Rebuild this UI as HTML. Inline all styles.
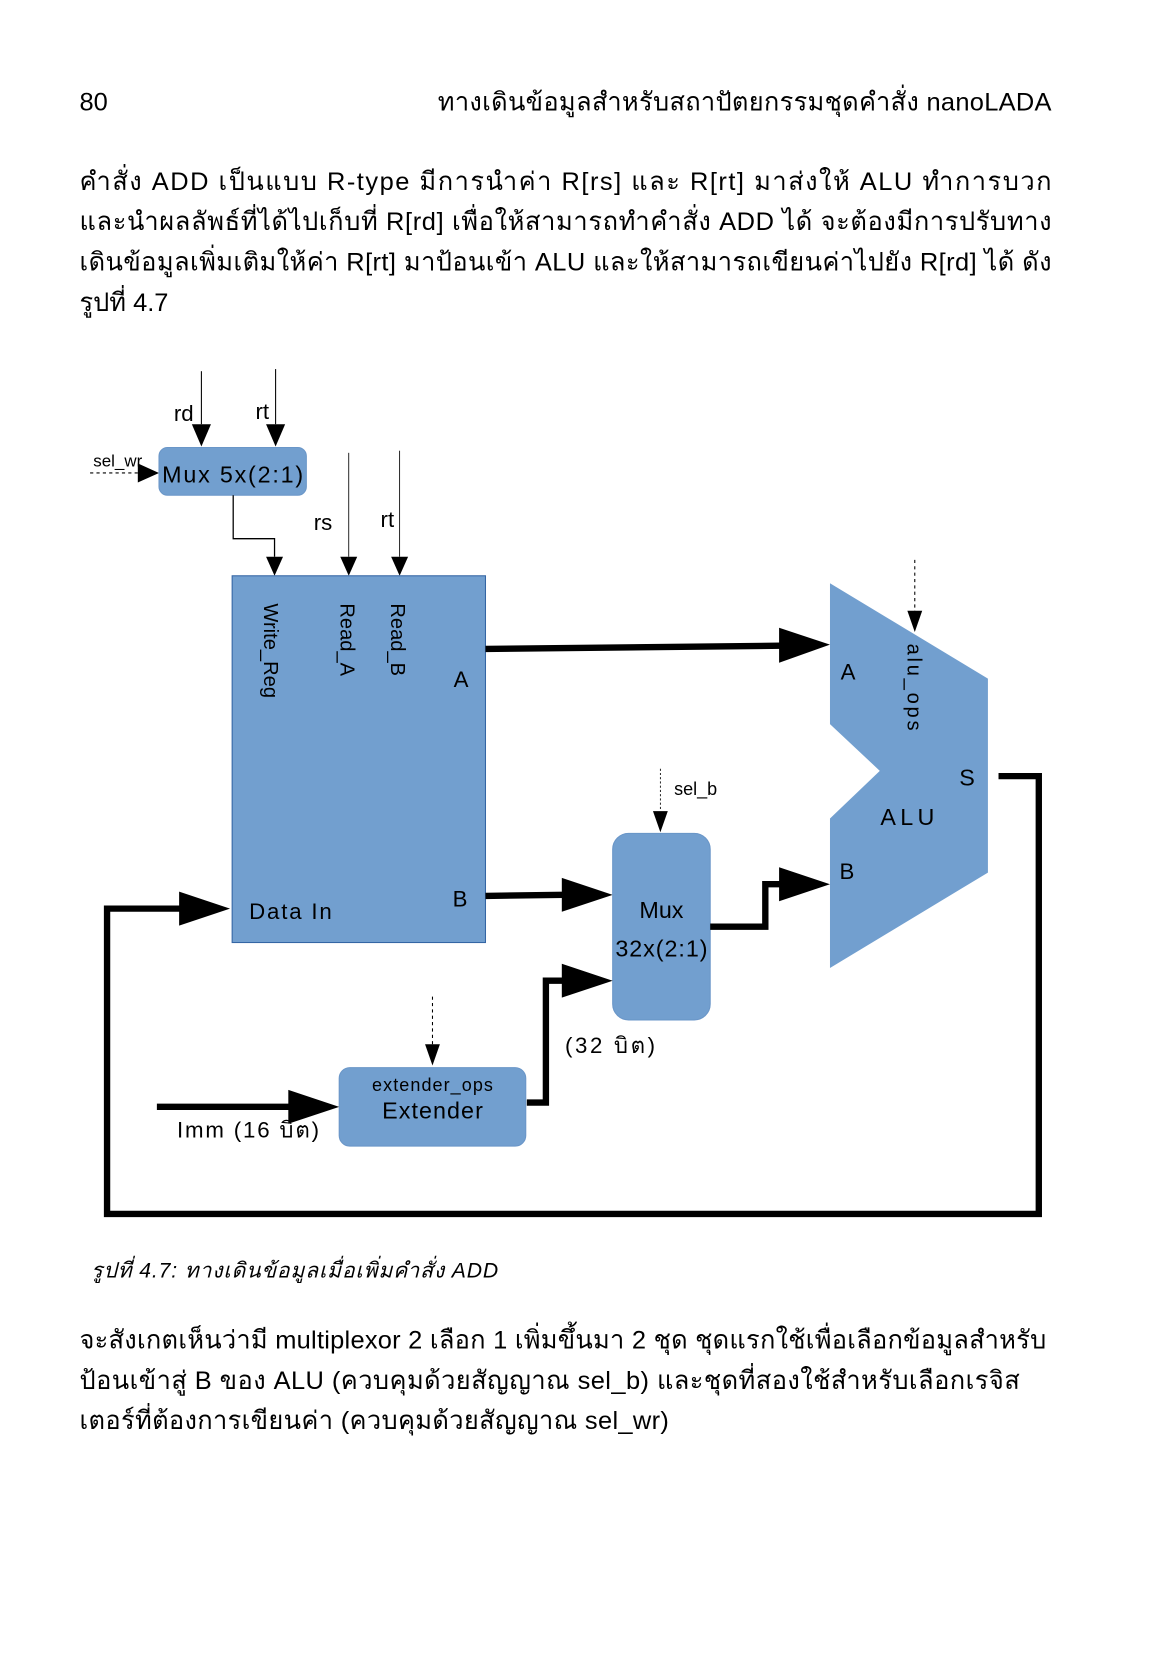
<!DOCTYPE html>
<html><head><meta charset="utf-8"><style>
html,body{margin:0;padding:0;background:#fff}
svg{display:block}
text{font-family:"Liberation Sans","DejaVu Sans",sans-serif;fill:#000}
</style></head><body>
<svg width="1166" height="1654" viewBox="0 0 1100 1560" xmlns="http://www.w3.org/2000/svg">
<!-- header -->
<text x="75" y="104" font-size="24">80</text>
<text x="413" y="104" font-size="24" textLength="579" lengthAdjust="spacing">ทางเดินข้อมูลสำหรับสถาปัตยกรรมชุดคำสั่ง nanoLADA</text>
<text x="75" y="179" font-size="24" textLength="917" lengthAdjust="spacing">คำสั่ง ADD เป็นแบบ R-type มีการนำค่า R[rs] และ R[rt] มาส่งให้ ALU ทำการบวก</text>
<text x="75" y="217" font-size="24" textLength="917" lengthAdjust="spacing">และนำผลลัพธ์ที่ได้ไปเก็บที่ R[rd] เพื่อให้สามารถทำคำสั่ง ADD ได้ จะต้องมีการปรับทาง</text>
<text x="75" y="255" font-size="24" textLength="917" lengthAdjust="spacing">เดินข้อมูลเพิ่มเติมให้ค่า R[rt] มาป้อนเข้า ALU  และให้สามารถเขียนค่าไปยัง R[rd] ได้ ดัง</text>
<text x="75" y="293" font-size="24">รูปที่ 4.7</text>

<!-- rd / rt into mux5 -->
<line x1="190" y1="350" x2="190" y2="400" stroke="#000" stroke-width="1"/>
<path d="M181,400 L199,400 L190,421z"/>
<line x1="260" y1="348" x2="260" y2="400" stroke="#000" stroke-width="1"/>
<path d="M251,400 L269,400 L260,421z"/>
<text x="164" y="397" font-size="21">rd</text>
<text x="241" y="395" font-size="21">rt</text>
<text x="88" y="440" font-size="16">sel_wr</text>
<line x1="85" y1="446" x2="130" y2="446" stroke="#000" stroke-dasharray="3,3"/>
<path d="M130,437 L150,446 L130,455z"/>
<rect x="150" y="422" width="139" height="45" rx="8" fill="#729fcf" stroke="#6a96c8"/>
<text x="153" y="455" font-size="22" textLength="133" lengthAdjust="spacing">Mux  5x(2:1)</text>
<polyline points="220,467 220,508 259,508 259,525" fill="none" stroke="#000" stroke-width="1.2"/>
<path d="M251,525 L267,525 L259,543z"/>
<line x1="329" y1="427" x2="329" y2="525" stroke="#000" stroke-width="0.8"/>
<path d="M321,525 L337,525 L329,543z"/>
<line x1="377" y1="425" x2="377" y2="525" stroke="#000" stroke-width="0.8"/>
<path d="M369,525 L385,525 L377,543z"/>
<text x="296" y="500" font-size="21">rs</text>
<text x="359" y="497" font-size="21">rt</text>

<!-- register file -->
<rect x="219" y="543" width="239" height="346" fill="#729fcf" stroke="#3465a4" stroke-width="1"/>
<text transform="translate(249,569) rotate(90)" font-size="19">Write_Reg</text>
<text transform="translate(321,569) rotate(90)" font-size="19">Read_A</text>
<text transform="translate(369,569) rotate(90)" font-size="19">Read_B</text>
<text x="428" y="648" font-size="21">A</text>
<text x="427" y="855" font-size="21">B</text>
<text x="235" y="867" font-size="21" textLength="78" lengthAdjust="spacing">Data  In</text>

<!-- A path -->
<line x1="458" y1="612" x2="737" y2="609" stroke="#000" stroke-width="6"/>
<path d="M735,592 L783,608 L735,625z"/>

<!-- ALU -->
<polygon points="783,550 932,640 932,823 783,913 783,772 830,727 783,683" fill="#729fcf"/>
<text x="793" y="641" font-size="21">A</text>
<text x="792" y="829" font-size="21">B</text>
<text x="856" y="778" font-size="22" text-anchor="middle" textLength="51" lengthAdjust="spacing">ALU</text>
<text x="905" y="741" font-size="22">S</text>
<text transform="translate(856,607) rotate(90)" font-size="19" textLength="82" lengthAdjust="spacing">alu_ops</text>
<line x1="863" y1="528" x2="863" y2="577" stroke="#000" stroke-dasharray="3,3"/>
<path d="M856,576 L870,576 L863,596z"/>

<!-- S feedback -->
<polyline points="942,732 980,732 980,1145 101,1145 101,857 172,857" fill="none" stroke="#000" stroke-width="6"/>
<path d="M169,841 L217,857 L169,873z"/>

<!-- B to mux32 -->
<line x1="458" y1="845" x2="532" y2="844" stroke="#000" stroke-width="6"/>
<path d="M530,828 L578,844 L530,860z"/>
<rect x="578" y="786" width="92" height="176" rx="15" fill="#729fcf" stroke="#6a96c8"/>
<text x="624" y="866" font-size="22" text-anchor="middle">Mux</text>
<text x="624" y="902" font-size="22" text-anchor="middle" textLength="87" lengthAdjust="spacing">32x(2:1)</text>
<line x1="623" y1="725" x2="623" y2="765" stroke="#000" stroke-dasharray="2,2" stroke-width="0.8"/>
<path d="M616,765 L630,765 L623,785z"/>
<text x="636" y="750" font-size="17">sel_b</text>
<polyline points="670,874 722,874 722,834 737,834" fill="none" stroke="#000" stroke-width="6"/>
<path d="M735,818 L783,834 L735,850z"/>

<!-- extender -->
<polyline points="497,1040 515,1040 515,925 532,925" fill="none" stroke="#000" stroke-width="6"/>
<path d="M530,909 L578,925 L530,941z"/>
<text x="533" y="993" font-size="21" textLength="85" lengthAdjust="spacing">(32  บิต)</text>
<rect x="320" y="1007" width="176" height="74" rx="10" fill="#729fcf" stroke="#6a96c8"/>
<text x="408" y="1029" font-size="17" text-anchor="middle" textLength="114" lengthAdjust="spacing">extender_ops</text>
<text x="408" y="1055" font-size="22" text-anchor="middle" textLength="95" lengthAdjust="spacing">Extender</text>
<line x1="408" y1="940" x2="408" y2="985" stroke="#000" stroke-dasharray="3,3"/>
<path d="M401,985 L415,985 L408,1005z"/>
<line x1="148" y1="1044" x2="274" y2="1044" stroke="#000" stroke-width="6"/>
<path d="M272,1028 L320,1044 L272,1060z"/>
<text x="167" y="1073" font-size="21" textLength="134" lengthAdjust="spacing">Imm  (16  บิต)</text>

<!-- caption -->
<text x="86" y="1205" font-size="20" font-style="italic" textLength="384" lengthAdjust="spacing">รูปที่ 4.7: ทางเดินข้อมูลเมื่อเพิ่มคำสั่ง ADD</text>

<text x="75" y="1272" font-size="24" textLength="912" lengthAdjust="spacing">จะสังเกตเห็นว่ามี multiplexor 2 เลือก 1 เพิ่มขึ้นมา 2 ชุด ชุดแรกใช้เพื่อเลือกข้อมูลสำหรับ</text>
<text x="75" y="1310" font-size="24" textLength="887" lengthAdjust="spacing">ป้อนเข้าสู่ B ของ ALU (ควบคุมด้วยสัญญาณ sel_b) และชุดที่สองใช้สำหรับเลือกเรจิส</text>
<text x="75" y="1348" font-size="24" textLength="556" lengthAdjust="spacing">เตอร์ที่ต้องการเขียนค่า (ควบคุมด้วยสัญญาณ sel_wr)</text>
</svg>
</body></html>
